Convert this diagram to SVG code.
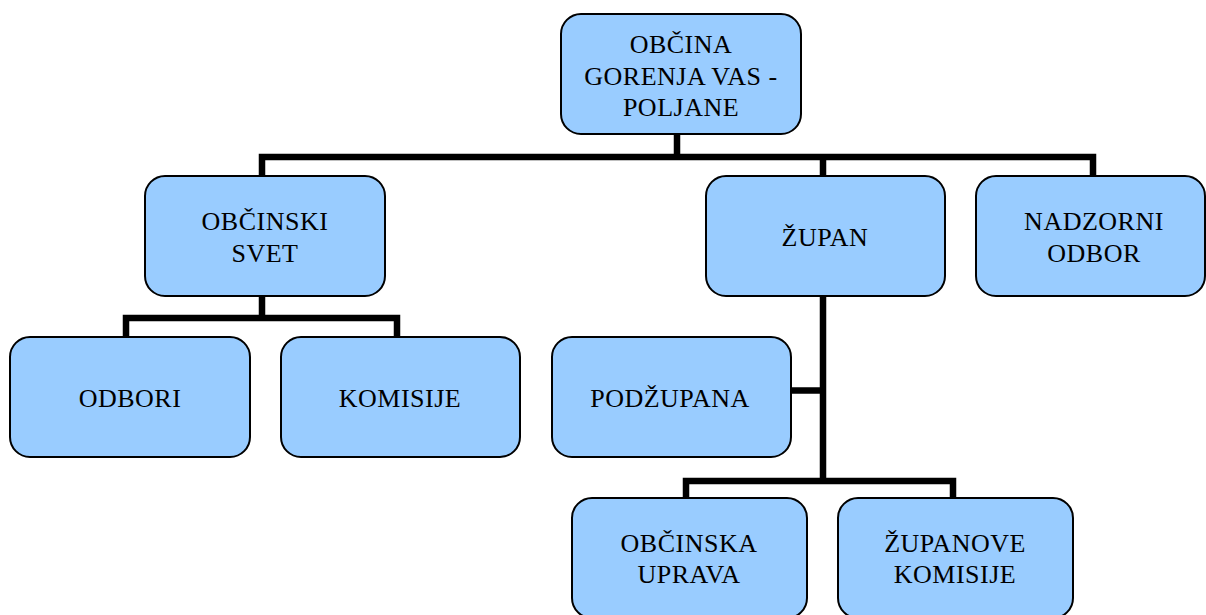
<svg xmlns="http://www.w3.org/2000/svg" width="1206" height="615" viewBox="0 0 1206 615">
<style>
.box{fill:#99CCFF;stroke:#000;stroke-width:2}
.lbl{font-family:"Liberation Serif","Times New Roman",serif;font-size:26px;letter-spacing:0.5px;fill:#000;text-anchor:middle}
.con{fill:none;stroke:#000;stroke-width:6.5;stroke-linecap:butt;stroke-linejoin:miter}
</style>
<rect width="1206" height="615" fill="#fff"/>
<g id="connectors">
<path class="con" d="M677,134 V157 M262,176 V157 H1093 V176 M823,157 V176"/>
<path class="con" d="M262,296 V318 M126,337 V318 H397 V337"/>
<path class="con" d="M823,296 V481 M791,390.5 H823 M686,498 V481 H953 V498"/>
</g>
<g id="n-obcina">
<rect class="box" x="561" y="14" width="240" height="120" rx="20"/>
<text class="lbl" x="681" y="53">OBČINA</text>
<text class="lbl" x="681" y="85">GORENJA VAS -</text>
<text class="lbl" x="681" y="116">POLJANE</text>
</g>
<g id="n-svet">
<rect class="box" x="145" y="176" width="240" height="120" rx="20"/>
<text class="lbl" x="265" y="230">OBČINSKI</text>
<text class="lbl" x="265" y="262">SVET</text>
</g>
<g id="n-zupan">
<rect class="box" x="706" y="176" width="239" height="120" rx="20"/>
<text class="lbl" x="825" y="246">ŽUPAN</text>
</g>
<g id="n-nadzorni">
<rect class="box" x="976" y="176" width="229" height="120" rx="20"/>
<text class="lbl" x="1094" y="230">NADZORNI</text>
<text class="lbl" x="1094" y="262">ODBOR</text>
</g>
<g id="n-odbori">
<rect class="box" x="10" y="337" width="240" height="120" rx="20"/>
<text class="lbl" x="130" y="407">ODBORI</text>
</g>
<g id="n-komisije">
<rect class="box" x="281" y="337" width="239" height="120" rx="20"/>
<text class="lbl" x="400" y="407">KOMISIJE</text>
</g>
<g id="n-podzupana">
<rect class="box" x="552" y="337" width="239" height="120" rx="20"/>
<text class="lbl" x="670" y="407">PODŽUPANA</text>
</g>
<g id="n-uprava">
<rect class="box" x="572" y="498" width="235" height="120" rx="20"/>
<text class="lbl" x="689" y="552">OBČINSKA</text>
<text class="lbl" x="689" y="583">UPRAVA</text>
</g>
<g id="n-zkomisije">
<rect class="box" x="838" y="498" width="235" height="120" rx="20"/>
<text class="lbl" x="955" y="552">ŽUPANOVE</text>
<text class="lbl" x="955" y="583">KOMISIJE</text>
</g>
</svg>
